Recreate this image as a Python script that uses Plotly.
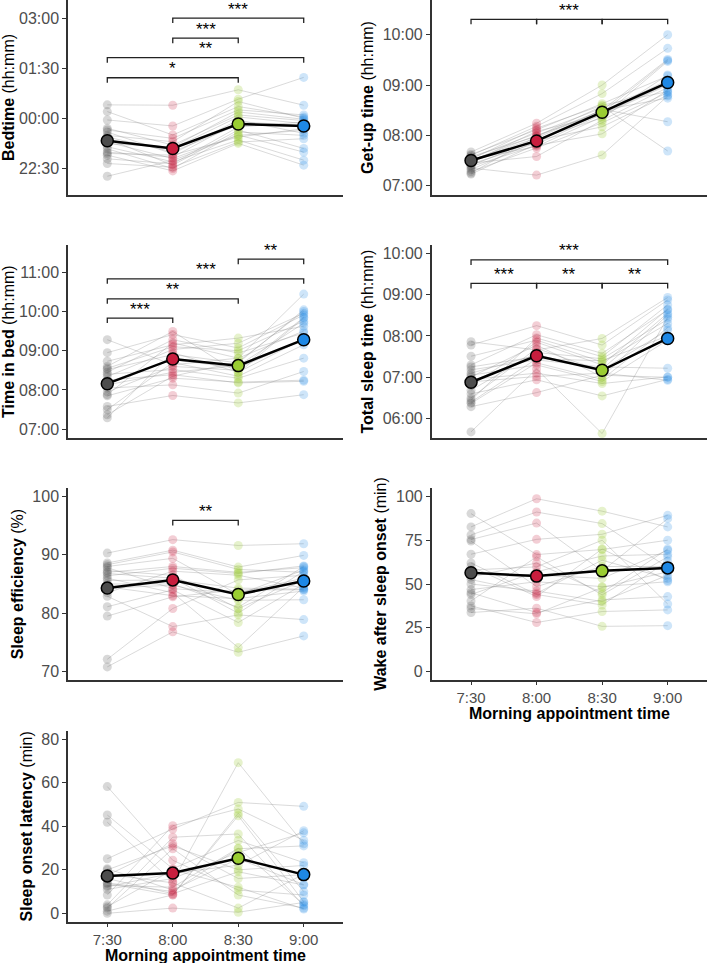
import plotly.graph_objects as go

# ---------------- data ----------------
conditions = ["7:30", "8:00", "8:30", "9:00"]
cond_pos = [1, 2, 3, 4]
colors = ["#4D4D4D", "#C81E3E", "#9ACD32", "#1E88E5"]
x_title = "Morning appointment time"

# Bedtime (decimal clock hours, values >24 are after midnight)
bed_730 = [24.41, 24.21, 23.96, 23.71, 23.66, 23.60, 23.50, 23.45, 23.40, 23.36, 23.30, 23.25, 23.16, 23.10, 23.00, 22.96, 22.91, 22.80, 22.66, 22.28]
bed_800 = [24.40, 23.51, 23.78, 23.21, 23.41, 22.95, 23.31, 23.01, 22.61, 23.11, 22.81, 23.15, 22.71, 22.51, 22.85, 22.91, 22.44, 22.65, 22.55, 22.75]
bed_830 = [24.86, 24.36, 24.58, 24.11, 24.26, 23.96, 24.51, 23.81, 23.66, 24.05, 23.51, 24.20, 23.36, 23.60, 23.90, 23.45, 23.26, 23.75, 23.30, 23.50]
bed_900 = [24.40, 24.05, 25.23, 23.94, 24.11, 23.56, 24.01, 23.76, 23.11, 23.85, 23.00, 23.98, 22.76, 23.50, 23.80, 23.70, 22.61, 23.90, 23.40, 23.65]
bed_mean = [23.34, 23.11, 23.84, 23.78]

# Get-up time (decimal clock hours)
getup_730 = [7.67, 7.62, 7.60, 7.58, 7.55, 7.53, 7.52, 7.50, 7.50, 7.48, 7.47, 7.45, 7.43, 7.40, 7.38, 7.35, 7.32, 7.28, 7.25, 7.23]
getup_800 = [8.24, 8.11, 8.18, 7.98, 8.05, 8.14, 7.78, 8.00, 7.95, 7.90, 8.08, 7.58, 7.85, 7.92, 7.80, 7.21, 7.88, 7.75, 7.98, 7.82]
getup_830 = [9.00, 8.63, 8.83, 8.50, 8.55, 8.60, 8.37, 8.45, 8.50, 8.17, 8.40, 8.30, 8.52, 8.35, 8.03, 7.61, 8.45, 8.25, 8.58, 8.42]
getup_900 = [10.00, 9.18, 9.73, 9.51, 9.04, 8.87, 9.47, 9.10, 8.74, 8.80, 9.00, 8.95, 8.27, 9.20, 8.90, 8.78, 9.49, 8.85, 7.69, 9.02]
getup_mean = [7.50, 7.89, 8.46, 9.05]

# Time in bed (hours)
tib_730 = [9.28, 8.95, 8.73, 8.60, 8.52, 8.45, 8.40, 8.34, 8.25, 8.20, 8.13, 8.05, 7.95, 7.88, 7.85, 7.58, 7.50, 7.37, 7.29, 8.55]
tib_800 = [8.64, 9.41, 9.15, 9.49, 8.90, 9.28, 8.52, 9.03, 8.39, 8.77, 8.45, 8.13, 8.60, 9.20, 8.30, 7.86, 8.70, 8.35, 8.95, 9.10]
tib_830 = [8.81, 9.07, 9.32, 8.43, 8.69, 8.94, 8.30, 9.19, 8.18, 8.56, 8.62, 7.92, 8.50, 8.81, 8.20, 7.67, 8.35, 8.72, 8.45, 9.00]
tib_900 = [10.44, 9.91, 9.62, 9.83, 10.04, 9.45, 8.81, 9.95, 8.22, 9.28, 9.70, 8.47, 9.85, 9.50, 8.25, 7.88, 9.15, 10.00, 9.30, 9.75]
tib_mean = [8.16, 8.79, 8.62, 9.28]

# Total sleep time (hours)
tst_730 = [7.86, 7.78, 7.51, 7.30, 7.18, 7.10, 7.01, 6.95, 6.89, 6.80, 6.69, 6.60, 6.50, 6.45, 6.37, 6.29, 5.68, 7.25, 6.40, 7.05]
tst_800 = [7.66, 8.25, 7.90, 8.03, 7.42, 7.54, 7.78, 7.10, 7.02, 7.85, 7.60, 6.94, 7.70, 7.95, 7.35, 6.63, 7.20, 7.50, 7.45, 7.30]
tst_830 = [7.94, 7.78, 7.37, 7.58, 7.25, 7.18, 7.01, 6.85, 7.10, 7.30, 7.45, 6.55, 7.15, 7.50, 6.95, 7.05, 5.64, 7.20, 7.40, 6.90]
tst_900 = [8.93, 8.87, 8.30, 8.63, 7.22, 8.14, 8.51, 7.01, 6.93, 8.65, 8.40, 6.95, 7.94, 8.75, 8.20, 7.00, 8.45, 8.55, 8.00, 7.90]
tst_mean = [6.88, 7.52, 7.17, 7.94]

# Sleep efficiency (%)
se_730 = [90.3, 88.6, 87.3, 86.4, 85.6, 88.0, 84.3, 82.9, 81.1, 79.5, 72.1, 70.8, 87.0, 86.0, 88.3, 85.0, 83.5, 87.8, 86.8, 84.5]
se_800 = [92.6, 90.8, 86.5, 87.7, 85.7, 89.4, 84.8, 77.7, 84.0, 82.8, 80.8, 76.8, 88.0, 83.5, 90.5, 85.0, 87.2, 84.2, 86.0, 83.0]
se_830 = [91.6, 87.9, 80.8, 86.8, 84.3, 83.2, 82.2, 79.7, 78.4, 84.0, 85.7, 73.3, 87.0, 74.1, 87.5, 81.0, 86.5, 83.5, 80.0, 82.5]
se_900 = [91.9, 89.9, 85.6, 88.1, 84.1, 87.4, 82.3, 78.9, 85.0, 84.0, 86.5, 76.1, 87.8, 84.5, 87.0, 88.0, 84.3, 86.0, 87.2, 83.8]
se_mean = [84.3, 85.7, 83.2, 85.5]

# Wake after sleep onset (min)
waso_730 = [90.2, 82.6, 78.0, 75.4, 67.0, 56.4, 52.5, 46.8, 45.0, 40.3, 37.5, 33.7, 58.0, 74.5, 60.0, 44.0, 36.0, 54.0, 50.0, 62.0]
waso_800 = [66.8, 98.7, 91.1, 84.8, 75.5, 55.1, 44.7, 51.3, 33.7, 65.5, 28.0, 36.2, 59.8, 48.5, 42.8, 57.0, 33.0, 62.0, 46.0, 44.0]
waso_830 = [69.7, 91.6, 84.5, 57.4, 78.4, 53.2, 63.6, 48.5, 40.9, 43.8, 34.3, 25.8, 75.0, 60.0, 70.0, 66.0, 48.0, 45.0, 40.0, 38.0]
waso_900 = [75.0, 82.6, 59.4, 87.3, 89.2, 69.3, 53.2, 51.3, 42.8, 65.5, 35.2, 26.2, 38.6, 60.0, 52.0, 67.0, 57.0, 70.0, 55.0, 63.0]
waso_mean = [56.4, 54.5, 57.5, 59.2]

# Sleep onset latency (min)
sol_730 = [58.3, 45.2, 41.9, 25.1, 20.5, 17.5, 13.7, 12.2, 8.4, 3.9, 2.4, 0.0, 14.0, 16.0, 18.0, 12.8, 3.0, 20.0, 1.0, 11.0]
sol_800 = [24.4, 20.5, 14.5, 38.8, 10.7, 32.0, 8.4, 18.5, 40.3, 35.0, 29.7, 2.4, 10.0, 9.0, 14.0, 12.0, 20.0, 31.0, 8.5, 16.0]
sol_830 = [10.7, 33.5, 69.3, 51.0, 25.1, 16.0, 44.9, 22.1, 48.0, 36.5, 8.4, 0.5, 29.7, 19.1, 2.4, 30.0, 12.0, 20.0, 46.0, 28.0]
sol_900 = [8.4, 23.3, 32.0, 49.2, 13.2, 17.8, 5.3, 38.0, 33.5, 3.5, 2.4, 5.0, 31.0, 13.0, 18.0, 4.0, 2.0, 22.0, 10.0, 37.0]
sol_mean = [17.2, 18.5, 25.3, 17.8]

# tick labels
bed_ticks = [22.5, 24.0, 25.5, 27.0]
bed_ticktext = ["22:30", "00:00", "01:30", "03:00"]
getup_ticks = [7, 8, 9, 10]
getup_ticktext = ["07:00", "08:00", "09:00", "10:00"]
tib_ticks = [7, 8, 9, 10, 11]
tib_ticktext = ["07:00", "08:00", "09:00", "10:00", "11:00"]
tst_ticks = [6, 7, 8, 9, 10]
tst_ticktext = ["06:00", "07:00", "08:00", "09:00", "10:00"]
se_ticks = [70, 80, 90, 100]
waso_ticks = [0, 25, 50, 75, 100]
sol_ticks = [0, 20, 40, 60, 80]

# significance brackets: (from, to, height, label)
bed_sig = [(2, 4, 27.0, "***"), (2, 3, 26.4, "***"), (1, 4, 25.82, "**"), (1, 3, 25.22, "*")]
getup_sig = [(1, 2, 10.306, ""), (2, 3, 10.306, "***"), (3, 4, 10.306, "")]
tib_sig = [(3, 4, 11.33, "**"), (1, 4, 10.83, "***"), (1, 3, 10.32, "**"), (1, 2, 9.83, "***")]
tst_sig = [(1, 4, 9.84, "***"), (1, 2, 9.27, "***"), (2, 3, 9.27, "**"), (3, 4, 9.27, "**")]
se_sig = [(2, 3, 95.9, "**")]

panels = [
    dict(vals=[bed_730, bed_800, bed_830, bed_900], mean=bed_mean, rng=[21.72, 27.54],
         ticks=bed_ticks, ticktext=bed_ticktext, title="<b>Bedtime</b> (hh:mm)", sig=bed_sig, row=0, col=0),
    dict(vals=[getup_730, getup_800, getup_830, getup_900], mean=getup_mean, rng=[6.815, 10.69],
         ticks=getup_ticks, ticktext=getup_ticktext, title="<b>Get-up time</b> (hh:mm)", sig=getup_sig, row=0, col=1),
    dict(vals=[tib_730, tib_800, tib_830, tib_900], mean=tib_mean, rng=[6.77, 11.69],
         ticks=tib_ticks, ticktext=tib_ticktext, title="<b>Time in bed</b> (hh:mm)", sig=tib_sig, row=1, col=0),
    dict(vals=[tst_730, tst_800, tst_830, tst_900], mean=tst_mean, rng=[5.525, 10.2],
         ticks=tst_ticks, ticktext=tst_ticktext, title="<b>Total sleep time</b> (hh:mm)", sig=tst_sig, row=1, col=1),
    dict(vals=[se_730, se_800, se_830, se_900], mean=se_mean, rng=[68.5, 101.5],
         ticks=se_ticks, ticktext=None, title="<b>Sleep efficiency</b> (%)", sig=se_sig, row=2, col=0),
    dict(vals=[waso_730, waso_800, waso_830, waso_900], mean=waso_mean, rng=[-5, 105],
         ticks=waso_ticks, ticktext=None, title="<b>Wake after sleep onset</b> (min)", sig=[], row=2, col=1,
         xlabel=True, xtitle_px=713),
    dict(vals=[sol_730, sol_800, sol_830, sol_900], mean=sol_mean, rng=[-4, 84],
         ticks=sol_ticks, ticktext=None, title="<b>Sleep onset latency</b> (min)", sig=[], row=3, col=0,
         xlabel=True, xtitle_px=955.5),
]

# ---------------- layout geometry (pixels) ----------------
W, H = 709, 963
col_px = [(68, 343), (431.7, 707)]
row_px = [(0, 195), (245, 438.3), (487.7, 680.3), (730.7, 922)]
FONT = "Liberation Sans, Arial, sans-serif"
point_rgba = ["rgba(77,77,77,0.22)", "rgba(200,30,62,0.22)", "rgba(154,205,50,0.25)", "rgba(30,136,229,0.22)"]

fig = go.Figure()
shapes = []
annotations = []
layout_axes = {}

for i, p in enumerate(panels):
    k = i + 1
    xa = "x" if k == 1 else f"x{k}"
    ya = "y" if k == 1 else f"y{k}"
    nsub = len(p["vals"][0])
    # subject lines
    lx, ly = [], []
    for s in range(nsub):
        for c in range(4):
            lx.append(cond_pos[c])
            ly.append(p["vals"][c][s])
        lx.append(None)
        ly.append(None)
    fig.add_trace(go.Scatter(x=lx, y=ly, mode="lines", xaxis=xa, yaxis=ya,
                             line=dict(color="rgba(140,140,140,0.32)", width=1),
                             hoverinfo="skip", showlegend=False))
    # individual points
    for c in range(4):
        fig.add_trace(go.Scatter(x=[cond_pos[c]] * nsub, y=p["vals"][c], mode="markers",
                                 xaxis=xa, yaxis=ya,
                                 marker=dict(size=9, color=point_rgba[c], line=dict(width=0)),
                                 hoverinfo="skip", showlegend=False))
    # mean line and markers
    fig.add_trace(go.Scatter(x=cond_pos, y=p["mean"], mode="lines+markers", xaxis=xa, yaxis=ya,
                             line=dict(color="black", width=2.5),
                             marker=dict(size=12, color=colors, line=dict(color="black", width=1.5)),
                             showlegend=False))

    x0, x1 = col_px[p["col"]]
    y0, y1 = row_px[p["row"]]
    xdom = [x0 / W, x1 / W]
    ydom = [1 - y1 / H, 1 - y0 / H]
    show_x = p.get("xlabel", False)
    xkey = "xaxis" if k == 1 else f"xaxis{k}"
    ykey = "yaxis" if k == 1 else f"yaxis{k}"
    layout_axes[xkey] = dict(
        domain=xdom, anchor=ya, range=[0.4, 4.6], tickvals=cond_pos, ticktext=conditions,
        showticklabels=show_x, ticks="outside" if show_x else "", ticklen=3, tickwidth=1.2,
        tickcolor="#333333", showline=True, linecolor="#333333", linewidth=1.5,
        showgrid=False, zeroline=False,
        tickfont=dict(family=FONT, size=15, color="#4D4D4D"),
    )
    ydict = dict(
        domain=ydom, anchor=xa, range=p["rng"], tickvals=p["ticks"],
        ticks="outside", ticklen=4, tickwidth=1.2, tickcolor="#333333",
        showline=True, linecolor="#333333", linewidth=1.5, showgrid=False, zeroline=False,
        tickfont=dict(family=FONT, size=16, color="#4D4D4D"),
        title=dict(text=p["title"], font=dict(family=FONT, size=16, color="black"), standoff=5),
    )
    if p["ticktext"] is not None:
        ydict["ticktext"] = p["ticktext"]
    layout_axes[ykey] = ydict

    if show_x:
        annotations.append(dict(x=(xdom[0] + xdom[1]) / 2, y=1 - p["xtitle_px"] / H,
                                xref="paper", yref="paper", text=f"<b>{x_title}</b>",
                                showarrow=False, xanchor="center", yanchor="middle",
                                font=dict(family=FONT, size=16, color="black")))

    # significance brackets
    tick = 5 * (p["rng"][1] - p["rng"][0]) / (y1 - y0)
    for (a, b, h, lab) in p["sig"]:
        shapes.append(dict(type="path", xref=xa, yref=ya,
                           path=f"M {a},{h - tick} L {a},{h} L {b},{h} L {b},{h - tick}",
                           line=dict(color="#222222", width=1.3)))
        if lab:
            annotations.append(dict(x=(a + b) / 2, y=h, xref=xa, yref=ya, text=lab,
                                    showarrow=False, yanchor="middle", yshift=9,
                                    font=dict(family=FONT, size=17, color="black")))

fig.update_layout(
    width=W, height=H, autosize=False,
    margin=dict(l=0, r=0, t=0, b=0),
    paper_bgcolor="white", plot_bgcolor="white",
    shapes=shapes, annotations=annotations,
    **layout_axes,
)

fig.write_html("out.html")
